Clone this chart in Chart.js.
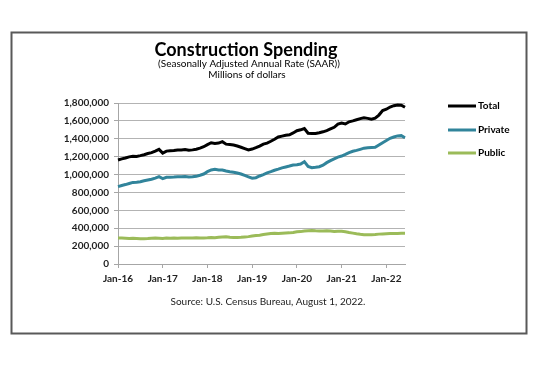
<!DOCTYPE html>
<html><head><meta charset="utf-8">
<script src="https://cdn.jsdelivr.net/npm/chart.js@4/dist/chart.umd.min.js"></script>
<style>html,body{margin:0;padding:0;background:#fff}</style>
</head><body><canvas id="c" width="540" height="366"></canvas>
<script>
const monthNames = ['Jan','Feb','Mar','Apr','May','Jun','Jul','Aug','Sep','Oct','Nov','Dec'];
const yearLabels = ['16','17','18','19','20','21','22'];
const categories = [];
yearLabels.forEach(y => monthNames.forEach(m => categories.push(m + '-' + y)));
categories.length = 78; // Jan-16 .. Jun-22

const totalSpending = [
  1163000,1175000,1185000,1198000,1205000,1203000,1212000,1222000,1235000,1245000,1262000,1282000,
  1240000,1262000,1265000,1268000,1275000,1275000,1280000,1272000,1276000,1283000,1295000,1311000,
  1335000,1356000,1348000,1352000,1368000,1340000,1335000,1330000,1319000,1305000,1290000,1275000,
  1285000,1300000,1318000,1340000,1352000,1372000,1395000,1420000,1430000,1440000,1445000,1465000,
  1490000,1500000,1515000,1462000,1458000,1460000,1468000,1478000,1492000,1510000,1528000,1565000,
  1575000,1565000,1590000,1600000,1612000,1625000,1635000,1628000,1620000,1630000,1665000,1715000,
  1730000,1755000,1770000,1778000,1775000,1752000
];
const privateSpending = [
  865000,878000,888000,900000,912000,915000,920000,930000,939000,948000,960000,976000,
  954000,969000,970000,972000,975000,976000,978000,972000,975000,980000,992000,1006000,
  1032000,1051000,1058000,1050000,1051000,1040000,1032000,1025000,1018000,1006000,990000,975000,
  960000,965000,984000,1000000,1018000,1032000,1048000,1060000,1075000,1085000,1095000,1107000,
  1110000,1118000,1144000,1090000,1077000,1082000,1088000,1105000,1133000,1155000,1175000,1195000,
  1207000,1225000,1245000,1260000,1270000,1282000,1295000,1300000,1302000,1304000,1330000,1356000,
  1380000,1405000,1420000,1432000,1435000,1412000
];
const publicSpending = [
  292000,290000,288000,286000,287000,285000,283000,282000,284000,288000,290000,289000,
  285000,290000,288000,290000,287000,291000,292000,290000,292000,293000,292000,292000,
  293000,295000,293000,298000,302000,305000,300000,296000,297000,298000,302000,306000,
  313000,318000,322000,330000,335000,340000,343000,340000,345000,347000,348000,352000,
  360000,362000,368000,372000,375000,372000,370000,368000,372000,368000,364000,366000,
  365000,360000,352000,345000,338000,332000,328000,326000,328000,330000,334000,336000,
  338000,340000,341000,342000,343000,343000
];
const seriesNames = ['Total','Private','Public'];
const seriesColors = ['#000000','#31849B','#9BBB59'];
const titleText = 'Construction Spending';
const subtitleLines = ['(Seasonally Adjusted Annual Rate (SAAR))','Millions of dollars'];
const sourceText = 'Source: U.S. Census Bureau, August 1, 2022.';
const FONT = 'Lato, "Liberation Sans", sans-serif';

const decor = {
  id: 'decor',
  beforeDraw(chart) {
    const ctx = chart.ctx;
    ctx.save();
    ctx.fillStyle = '#fff';
    ctx.fillRect(0, 0, chart.width, chart.height);
    ctx.restore();
  },
  afterDraw(chart) {
    const ctx = chart.ctx;
    ctx.save();
    // frame
    ctx.strokeStyle = '#595959';
    ctx.lineWidth = 2;
    ctx.strokeRect(11.5, 32.5, 515, 301);
    // titles
    ctx.fillStyle = '#000';
    ctx.textAlign = 'center';
    ctx.textBaseline = 'middle';
    ctx.font = 'bold 18px ' + FONT;
    ctx.fillText(titleText, 246, 50);
    ctx.font = '10px ' + FONT;
    ctx.fillText(subtitleLines[0], 249, 64);
    ctx.fillText(subtitleLines[1], 247, 75);
    ctx.font = '10px ' + FONT;
    ctx.fillStyle = '#222';
    ctx.fillText(sourceText, 268, 302);
    // legend
    const ys = [106, 130, 153];
    chart.data.datasets.forEach((ds, i) => {
      ctx.strokeStyle = ds.borderColor;
      ctx.lineWidth = 3;
      ctx.beginPath();
      ctx.moveTo(448, ys[i]);
      ctx.lineTo(476, ys[i]);
      ctx.stroke();
      ctx.fillStyle = '#000';
      ctx.textAlign = 'left';
      ctx.font = 'bold 10px ' + FONT;
      ctx.fillText(ds.label, 478, ys[i]);
    });
    ctx.restore();
  }
};

function build() {
  new Chart(document.getElementById('c'), {
    type: 'line',
    data: {
      labels: categories,
      datasets: [totalSpending, privateSpending, publicSpending].map((d, i) => ({
        label: seriesNames[i],
        data: d,
        borderColor: seriesColors[i],
        backgroundColor: seriesColors[i],
        borderWidth: 3,
        pointRadius: 0,
        tension: 0,
        fill: false
      }))
    },
    options: {
      responsive: false,
      animation: false,
      devicePixelRatio: 1,
      layout: { padding: { top: 103, right: 135, bottom: 0, left: 0 } },
      plugins: { legend: { display: false }, title: { display: false }, tooltip: { enabled: false } },
      scales: {
        x: {
          type: 'category',
          offset: false,
          afterFit: s => { s.height = 102; },
          ticks: {
            autoSkip: false, maxRotation: 0, minRotation: 0, padding: 5,
            color: '#222', font: { family: FONT, size: 10, weight: 'bold' },
            callback: (v, i) => categories[i].startsWith('Jan') ? categories[i] : null
          },
          grid: { drawOnChartArea: false, tickLength: 4, color: '#a6a6a6' },
          border: { color: '#a6a6a6', width: 1 }
        },
        y: {
          min: 0, max: 1800000,
          afterFit: s => { s.width = 118; },
          ticks: {
            stepSize: 200000, padding: 5, color: '#222',
            font: { family: FONT, size: 10, weight: 'bold' },
            callback: v => v.toLocaleString('en-US')
          },
          grid: { color: '#b3b3b3', tickLength: 4, tickColor: '#a6a6a6' },
          border: { color: '#a6a6a6', width: 1 }
        }
      }
    },
    plugins: [decor]
  });
}
if (document.fonts && document.fonts.load) {
  Promise.all([document.fonts.load('bold 10px Lato'), document.fonts.load('10px Lato'), document.fonts.load('bold 18px Lato')]).then(build, build);
} else build();
</script></body></html>
